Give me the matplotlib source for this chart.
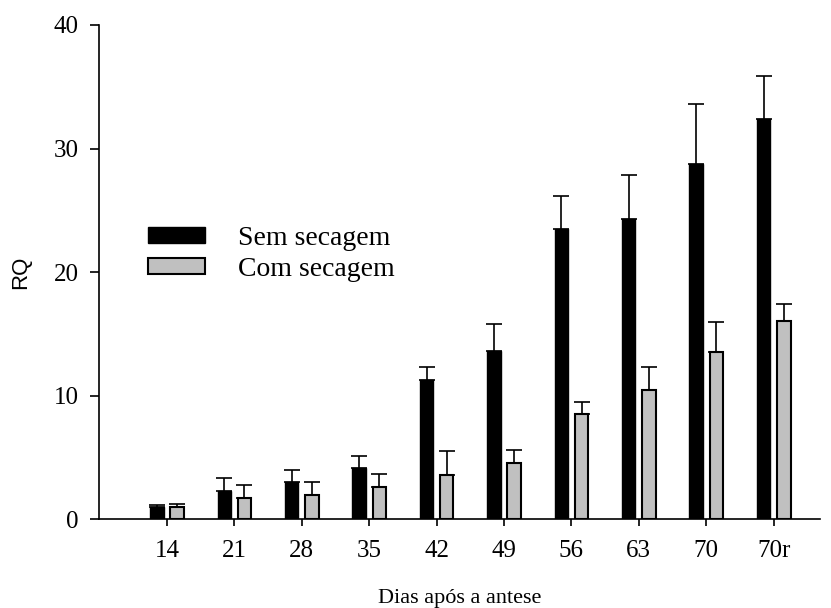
import numpy as np
import matplotlib
matplotlib.use('Agg')
import matplotlib.pyplot as plt
from matplotlib.patches import Patch

# data
dias = ['14', '21', '28', '35', '42', '49', '56', '63', '70', '70r']
sem_secagem = [1.02, 2.29, 3.04, 4.18, 11.27, 13.59, 23.46, 24.27, 28.75, 32.4]
sem_erro = [0.16, 1.08, 0.92, 0.94, 1.03, 2.24, 2.72, 3.61, 4.85, 3.5]
com_secagem = [1.02, 1.70, 1.97, 2.59, 3.59, 4.56, 8.48, 10.46, 13.55, 16.05]
com_erro = [0.18, 1.05, 1.07, 1.05, 1.97, 1.08, 1.02, 1.86, 2.44, 1.37]

serif = ['Liberation Serif', 'DejaVu Serif']

fig = plt.figure(figsize=(8.31, 6.08), dpi=100)
ax = fig.add_axes([0.119, 0.146, 0.868, 0.813])

x = np.arange(len(dias))
w = 0.2
off = 0.15

ax.bar(x - off, sem_secagem, w, color='black', edgecolor='black', linewidth=1, zorder=2)
ax.bar(x + off, com_secagem, w, color='#c0c0c0', edgecolor='black', linewidth=1.5, zorder=2)

zeros = np.zeros(len(dias))
ax.errorbar(x - off, sem_secagem, yerr=[zeros, sem_erro], fmt='none', ecolor='black',
            elinewidth=1.2, capsize=5.5, capthick=1.2, zorder=1)
ax.errorbar(x + off, com_secagem, yerr=[zeros, com_erro], fmt='none', ecolor='black',
            elinewidth=1.2, capsize=5.5, capthick=1.2, zorder=1)

ax.set_xlim(-1.01, 9.69)
ax.set_ylim(0, 40)
ax.set_yticks([0, 10, 20, 30, 40])
ax.set_xticks(x)
ax.set_xticklabels(dias)

for s in ['top', 'right']:
    ax.spines[s].set_visible(False)
for s in ['left', 'bottom']:
    ax.spines[s].set_linewidth(1.2)

ax.tick_params(axis='y', direction='out', length=6.5, width=1.2, pad=8)
ax.tick_params(axis='x', direction='out', length=5, width=1.2, pad=10)
for lab in ax.get_xticklabels() + ax.get_yticklabels():
    lab.set_family(serif)
    lab.set_fontsize(18)

# axis titles placed where the reference has them
fig.text(459.5 / 831, 1 - 598 / 608, 'Dias após a antese', family=serif, fontsize=16,
         ha='center', va='center')
fig.text(21 / 831, 1 - 272 / 608, 'RQ', family=['Liberation Sans', 'DejaVu Sans'],
         fontsize=16, rotation=90, ha='center', va='center')

handles = [Patch(facecolor='black', edgecolor='black', linewidth=1),
           Patch(facecolor='#c0c0c0', edgecolor='black', linewidth=1.5)]
ax.legend(handles, ['Sem secagem', 'Com secagem'], loc='upper left',
          bbox_to_anchor=(0.068, 0.594), frameon=False, borderpad=0, borderaxespad=0,
          handlelength=2.05, handleheight=0.54, handletextpad=1.19, labelspacing=0.23,
          prop={'family': serif, 'size': 20})

fig.savefig('out.png', dpi=100)
